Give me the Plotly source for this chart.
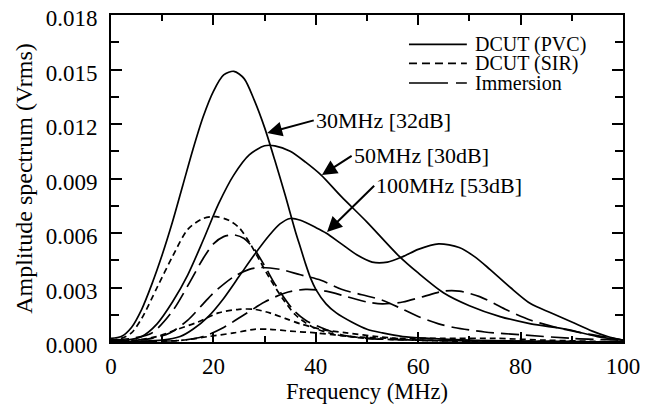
import plotly.graph_objects as go

# ---------------- data ----------------
# DCUT (PVC) - solid
pvc30_f = [0, 2, 4, 6, 8, 10, 12, 14, 16, 18, 20, 22, 24, 26, 28, 30, 32, 34, 36, 37, 38, 39, 40, 42, 44, 47, 50, 53, 57, 62, 70, 80, 100]
pvc30_v = [0.0002, 0.0003, 0.0008, 0.0018, 0.0032, 0.0048, 0.0066, 0.0086, 0.0106, 0.0124, 0.0138, 0.0147, 0.0149, 0.0145, 0.0133, 0.0118, 0.0100, 0.0081, 0.0061, 0.0052, 0.0043, 0.0035, 0.0029, 0.0021, 0.0016, 0.0011, 0.0007, 0.0005, 0.0003, 0.0002, 0.0001, 0.00005, 0.0]

pvc50_f = [0, 3, 6, 9, 12, 15, 18, 21, 24, 27, 30, 32, 35, 38, 41, 45, 50, 56, 60, 65, 70, 76, 82, 89, 95, 100]
pvc50_v = [0.0001, 0.0001, 0.0003, 0.0010, 0.0022, 0.0037, 0.0056, 0.0076, 0.0092, 0.0103, 0.0108, 0.0108, 0.0105, 0.0099, 0.0092, 0.0080, 0.0066, 0.0048, 0.0038, 0.0027, 0.0020, 0.0014, 0.0010, 0.0007, 0.0003, 0.0001]

pvc100_f = [0, 10, 13.5, 16, 19, 22, 25, 28, 31, 33, 35, 37, 40, 42, 45, 48, 51, 54, 57, 60, 64, 68, 71, 74, 78, 82, 86, 90, 94, 97, 100]
pvc100_v = [0.0, 0.0001, 0.0003, 0.0007, 0.0014, 0.0024, 0.0036, 0.0048, 0.0059, 0.0065, 0.0068, 0.0067, 0.0063, 0.0060, 0.0054, 0.0048, 0.0044, 0.0044, 0.0047, 0.0051, 0.0054, 0.0052, 0.0047, 0.0040, 0.0030, 0.0021, 0.0016, 0.0011, 0.0006, 0.0003, 0.0001]

# DCUT (SIR) - short dash
sir30_f = [0, 2, 4, 6, 9, 12, 15, 18, 20.5, 23, 25, 27, 29, 31, 33.5, 36, 39.5, 44, 50, 60, 100]
sir30_v = [0.0001, 0.0002, 0.0005, 0.0013, 0.0030, 0.0047, 0.0062, 0.0068, 0.0069, 0.0067, 0.0063, 0.0055, 0.0045, 0.0035, 0.0024, 0.0015, 0.0008, 0.0004, 0.0002, 0.0001, 0.0]

sir50_f = [0, 5, 9, 13, 17, 21, 25, 28, 31, 34, 37, 41, 46, 52, 60, 100]
sir50_v = [0.0, 0.0001, 0.0003, 0.0007, 0.0011, 0.0016, 0.0018, 0.0018, 0.0016, 0.0013, 0.0010, 0.0007, 0.0005, 0.0003, 0.0001, 0.0]

sir100_f = [0, 14, 19, 24, 28, 31, 35, 40, 47, 55, 65, 75, 85, 100]
sir100_v = [0.0, 0.0001, 0.0003, 0.0005, 0.0007, 0.0007, 0.0006, 0.0005, 0.0003, 0.0002, 0.0002, 0.0002, 0.0001, 0.0]

# Immersion - long dash
imm30_f = [0, 4, 8, 12, 15.4, 18, 20, 22, 24, 26, 28, 30, 32, 35.5, 38, 41, 45, 50, 60, 100]
imm30_v = [0.0001, 0.0002, 0.0005, 0.0017, 0.0033, 0.0046, 0.0054, 0.0058, 0.0059, 0.0057, 0.0051, 0.0042, 0.0032, 0.0018, 0.0012, 0.0008, 0.0004, 0.0002, 0.0001, 0.0]

imm50_f = [0, 5, 8, 11.5, 15, 18, 20, 24, 27, 29, 33, 37, 41, 45, 49, 53, 57, 60, 64, 67, 73, 80, 90, 100]
imm50_v = [0.0, 0.0001, 0.0002, 0.0005, 0.0012, 0.0021, 0.0027, 0.0036, 0.0040, 0.0041, 0.0040, 0.0037, 0.0034, 0.0029, 0.0026, 0.0023, 0.0018, 0.0014, 0.0010, 0.0008, 0.00055, 0.0004, 0.0002, 0.0001]

imm100_f = [0, 14, 18, 22, 26, 30, 34, 38, 42, 46, 50, 53, 57, 61, 65, 68, 72, 77, 82, 87, 92, 96, 100]
imm100_v = [0.0, 0.0001, 0.0003, 0.0008, 0.0015, 0.0022, 0.0027, 0.0029, 0.0028, 0.0025, 0.0022, 0.0021, 0.0022, 0.0025, 0.0028, 0.0028, 0.0025, 0.0018, 0.0012, 0.0008, 0.0005, 0.0003, 0.0001]

legend_labels = ["DCUT (PVC)", "DCUT (SIR)", "Immersion"]
annot_labels = ["30MHz [32dB]", "50MHz [30dB]", "100MHz [53dB]"]

x_ticks = [0, 20, 40, 60, 80, 100]
y_ticks = [0.000, 0.003, 0.006, 0.009, 0.012, 0.015, 0.018]

# ---------------- styles ----------------
FONT = "Liberation Serif"
SOLID = "solid"
SHORT = "6px,4px"
LONG = "18px,7px"
LW = 1.7

fig = go.Figure()

series = [
    (pvc30_f, pvc30_v, SOLID), (pvc50_f, pvc50_v, SOLID), (pvc100_f, pvc100_v, SOLID),
    (sir30_f, sir30_v, SHORT), (sir50_f, sir50_v, SHORT), (sir100_f, sir100_v, SHORT),
    (imm30_f, imm30_v, LONG), (imm50_f, imm50_v, LONG), (imm100_f, imm100_v, LONG),
]
for fx, vy, dash in series:
    fig.add_trace(go.Scatter(
        x=fx, y=vy, mode="lines",
        line=dict(color="black", width=LW, dash=dash, shape="spline", smoothing=0.8),
        showlegend=False, hoverinfo="skip"))

# ---------------- manual legend ----------------
leg_rows = [0.910, 0.852, 0.792]
leg_dash = [SOLID, "8px,5px", "39px,8px,11px,100px"]
for lab, yy, dsh in zip(legend_labels, leg_rows, leg_dash):
    fig.add_shape(type="line", xref="paper", yref="paper",
                  x0=0.582, x1=0.695, y0=yy, y1=yy,
                  line=dict(color="black", width=LW, dash=dsh))
    fig.add_annotation(xref="paper", yref="paper", x=0.707, y=yy,
                       text=lab, showarrow=False, xanchor="left", yanchor="middle",
                       font=dict(family=FONT, size=20, color="black"))

# ---------------- arrows with labels ----------------
arrows = [
    # tip (x, y), tail (ax, ay)
    (30.5, 0.01150, 39.6, 0.01220),
    (41.2, 0.00919, 47.0, 0.01025),
    (42.2, 0.00606, 51.4, 0.00860),
]
for lab, (tx, ty, ax, ay) in zip(annot_labels, arrows):
    fig.add_annotation(x=tx, y=ty, ax=ax, ay=ay, xref="x", yref="y",
                       axref="x", ayref="y", text=lab, showarrow=True,
                       xanchor="left", yanchor="middle",
                       arrowhead=2, arrowsize=1.5, arrowwidth=2, arrowcolor="black",
                       font=dict(family=FONT, size=22, color="black"))

axis_common = dict(
    showline=True, linecolor="black", linewidth=2, mirror="allticks",
    ticks="inside", tickcolor="black", tickwidth=1.5,
    showgrid=False, zeroline=False, automargin=False,
    ticklabeloverflow="allow",
    tickfont=dict(family=FONT, size=23, color="black"),
)

fig.update_xaxes(
    range=[0, 100], tickvals=x_ticks, ticklen=10,
    minor=dict(ticks="inside", dtick=10, ticklen=6, tickcolor="black", tickwidth=1.5),
    title=dict(text="Frequency (MHz)", font=dict(family=FONT, size=22.5, color="black"), standoff=6),
    ticklabelstandoff=2,
    **axis_common)
fig.update_yaxes(
    range=[0, 0.018], tickvals=y_ticks, tickformat=".3f", ticklen=11,
    minor=dict(ticks="inside", dtick=0.0015, ticklen=8, tickcolor="black", tickwidth=1.5),
    title=dict(text="Amplitude spectrum (Vrms)", font=dict(family=FONT, size=24, color="black"), standoff=6),
    ticklabelstandoff=7, ticklabelshift=3,
    **axis_common)

fig.update_layout(
    width=649, height=407,
    margin=dict(l=111, r=26, t=15, b=65),
    plot_bgcolor="white", paper_bgcolor="white",
    font=dict(family=FONT, color="black"),
)

# remove the browser's default 8px body margin so the figure fills the window
fig.write_html("out.html", config={"displayModeBar": False},
               post_script="document.body.style.margin='0px';")
